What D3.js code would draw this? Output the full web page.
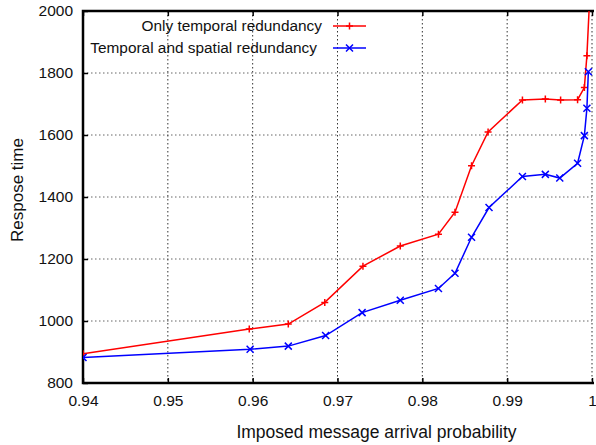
<!DOCTYPE html>
<html>
<head>
<meta charset="utf-8">
<script src="https://cdn.jsdelivr.net/npm/d3@7"></script>
<style>
  body { margin: 0; background: #fff; }
  svg { display: block; font-family: "Liberation Sans", Arial, Helvetica, sans-serif; }
</style>
</head>
<body>
<svg id="chart" width="596" height="445"></svg>
<script>
// Series.
const probTemporal = [0.94, 0.9596, 0.9642, 0.9685, 0.973, 0.9774, 0.9819, 0.98385,
  0.9858, 0.98775, 0.9918, 0.9945, 0.9963, 0.9983, 0.9991, 0.9994, 1.0];
const respTemporal = [894, 974, 990, 1060, 1177, 1242, 1280, 1351,
  1501, 1610, 1713, 1716, 1713, 1714, 1753, 1856, 2200];

const probSpatial = [0.94, 0.9597, 0.9642, 0.9686, 0.9729, 0.9774, 0.9819, 0.98385,
  0.9858, 0.98786, 0.9918, 0.9945, 0.9962, 0.9983, 0.9991, 0.9994, 0.99957];
const respSpatial = [882, 909, 919, 953, 1027, 1067, 1105, 1154,
  1270, 1366, 1466, 1473, 1461, 1509, 1598, 1686, 1804];

const xTicks = [0.94, 0.95, 0.96, 0.97, 0.98, 0.99, 1.0];
const yTicks = [800, 1000, 1200, 1400, 1600, 1800, 2000];
const seriesNames = ['Only temporal redundancy', 'Temporal and spatial redundancy'];

const svg = d3.select('#chart');
const plotLeft = 83, plotRight = 592, plotTop = 11, plotBottom = 383;

const x = d3.scaleLinear().domain([0.94, 1.0]).range([plotLeft, plotRight]);
const y = d3.scaleLinear().domain([800, 2000]).range([plotBottom, plotTop]);

// Dotted grid at the inner ticks.
svg.append('g')
  .selectAll('line')
  .data(yTicks.slice(1, -1))
  .join('line')
  .attr('x1', plotLeft).attr('x2', plotRight)
  .attr('y1', (d) => y(d)).attr('y2', (d) => y(d))
  .attr('stroke', '#666').attr('stroke-width', 1)
  .attr('stroke-dasharray', '1.5,2.5');

svg.append('g')
  .selectAll('line')
  .data(xTicks.slice(1))
  .join('line')
  .attr('x1', (d) => x(d)).attr('x2', (d) => x(d))
  .attr('y1', plotTop).attr('y2', plotBottom)
  .attr('stroke', '#333').attr('stroke-width', 1)
  .attr('stroke-dasharray', '1.5,2.5');

// Axes: ticks pointing inward, labels drawn by the axis generator.
const xAxis = svg.append('g')
  .attr('transform', `translate(0,${plotBottom})`)
  .call(d3.axisBottom(x).tickValues(xTicks).tickSize(-5).tickPadding(12)
    .tickFormat((d) => d === 1 ? '1' : d3.format('.2f')(d)));

const yAxis = svg.append('g')
  .attr('transform', `translate(${plotLeft},0)`)
  .call(d3.axisLeft(y).tickValues(yTicks).tickSize(-5).tickPadding(10)
    .tickFormat(d3.format('d')));

const topAxis = svg.append('g')
  .attr('transform', `translate(0,${plotTop})`)
  .call(d3.axisTop(x).tickValues(xTicks).tickSize(-5).tickFormat(''));

[xAxis, yAxis, topAxis].forEach((g) => {
  g.select('.domain').remove();
  g.selectAll('.tick line').attr('stroke', '#000').attr('stroke-width', 1.5);
  g.selectAll('.tick text')
    .attr('fill', '#111')
    .style('font-size', '15.5px');
});

// Frame: left, bottom and top edges.
svg.append('path')
  .attr('d', `M${plotRight + 2},${plotTop} H${plotLeft} V${plotBottom} H${plotRight + 2}`)
  .attr('fill', 'none')
  .attr('stroke', '#000')
  .attr('stroke-width', 2.5);

// Axis titles.
svg.append('text')
  .attr('x', (plotLeft + plotRight) / 2 + 39)
  .attr('y', 438)
  .attr('text-anchor', 'middle')
  .style('font-size', '17.5px')
  .attr('fill', '#111')
  .text('Imposed message arrival probability');

svg.append('text')
  .attr('transform', `translate(23,${(plotTop + plotBottom) / 2 - 7}) rotate(-90)`)
  .attr('text-anchor', 'middle')
  .style('font-size', '17px')
  .attr('fill', '#111')
  .text('Respose time');

// Series.
svg.append('clipPath').attr('id', 'plot-clip')
  .append('rect')
  .attr('x', plotLeft).attr('y', plotTop)
  .attr('width', plotRight - plotLeft + 4).attr('height', plotBottom - plotTop);

const series = [
  {name: seriesNames[0], xs: probTemporal, ys: respTemporal, color: '#ff0000', marker: 'plus'},
  {name: seriesNames[1], xs: probSpatial, ys: respSpatial, color: '#0000ff', marker: 'cross'},
];

const markerPath = (kind, cx, cy) => {
  const r = 3.5;
  if (kind === 'plus') {
    return `M${cx - r},${cy}H${cx + r}M${cx},${cy - r}V${cy + r}`;
  }
  return `M${cx - r},${cy - r}L${cx + r},${cy + r}M${cx - r},${cy + r}L${cx + r},${cy - r}`;
};

const line = d3.line().x((d) => x(d[0])).y((d) => y(d[1]));
const plot = svg.append('g').attr('clip-path', 'url(#plot-clip)');

series.forEach((s) => {
  const pts = s.xs.map((v, i) => [v, s.ys[i]]);
  plot.append('path')
    .datum(pts)
    .attr('d', line)
    .attr('fill', 'none')
    .attr('stroke', s.color)
    .attr('stroke-width', 1.5);
  plot.append('g')
    .selectAll('path')
    .data(pts)
    .join('path')
    .attr('d', (d) => markerPath(s.marker, x(d[0]), y(d[1])))
    .attr('stroke', s.color)
    .attr('stroke-width', 1.5);
});

// Legend, top-left inside the frame.
const legend = svg.append('g');
series.forEach((s, i) => {
  const ly = 26 + i * 22;
  legend.append('text')
    .attr('x', i === 0 ? 322 : 317).attr('y', ly)
    .attr('dy', '0.35em')
    .attr('text-anchor', 'end')
    .style('font-size', '15.4px')
    .attr('fill', '#111')
    .text(s.name);
  legend.append('line')
    .attr('x1', 333).attr('x2', 366)
    .attr('y1', ly).attr('y2', ly)
    .attr('stroke', s.color).attr('stroke-width', 1.5);
  legend.append('path')
    .attr('d', markerPath(s.marker, 349.5, ly))
    .attr('stroke', s.color).attr('stroke-width', 1.5);
});
</script>
</body>
</html>
